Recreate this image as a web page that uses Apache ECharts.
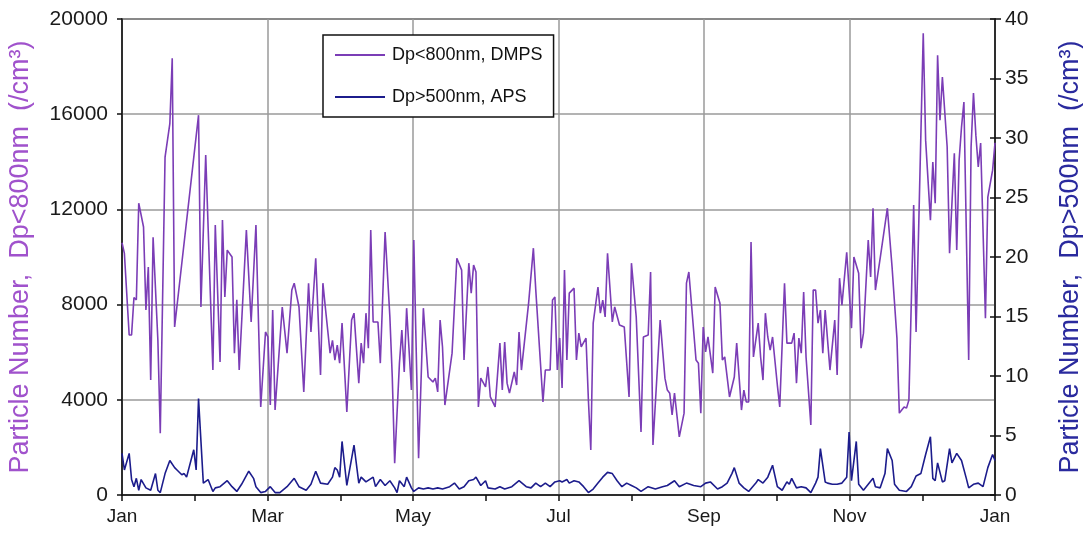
<!DOCTYPE html>
<html>
<head>
<meta charset="utf-8">
<script src="https://cdn.jsdelivr.net/npm/echarts@6/dist/echarts.min.js"></script>
<style>
  html, body { margin: 0; padding: 0; background: #ffffff; }
  #chart { width: 1083px; height: 537px; }
</style>
</head>
<body>
<div id="chart"></div>
<script>
// Month labels shown every second month along the day-of-year axis
const monthLabels = ['Jan', 'Mar', 'May', 'Jul', 'Sep', 'Nov', 'Jan'];

// Series names
const dmpsName = 'Dp<800nm, DMPS';
const apsName = 'Dp>500nm, APS';

// Daily particle number, Dp<800nm (DMPS), [day of year, count per cm3]
const dmpsDaily = [
  [0,10600],[1,10150],[3,6720],[4,6720],[5,8300],[6,8200],[7,12260],[9,11260],[10,7770],[11,9580],
  [12,4830],[13,10830],[15,6500],[16,2600],[18,14200],[20,15600],[21,18350],[22,7060],[32,15960],[33,7900],
  [35,14280],[38,5250],[39,11340],[41,5590],[42,11550],[43,8320],[44,10290],[46,10000],[47,5960],[48,8200],
  [49,5250],[52,11130],[54,7270],[56,11340],[58,3700],[60,6850],[61,6640],[62,3780],[63,7770],[64,3570],
  [67,7900],[69,5960],[71,8610],[72,8900],[74,7900],[76,4330],[78,8900],[79,6850],[81,9950],[83,5040],
  [84,8900],[85,7900],[87,5960],[88,6500],[89,5670],[90,6300],[91,5540],[92,7220],[94,3490],[96,7350],
  [97,7640],[99,4700],[100,6380],[101,5540],[102,7640],[103,6170],[104,11130],[105,7270],[107,7270],[108,5540],
  [110,11050],[112,7480],[113,4960],[114,1340],[116,5540],[117,6930],[118,5170],[119,7850],[121,4410],[122,10710],
  [124,1550],[126,7850],[128,4960],[130,4750],[131,4910],[132,4330],[133,7350],[134,6220],[135,3780],[138,5960],
  [140,9950],[142,9450],[143,5670],[145,9740],[146,8480],[147,9660],[148,9370],[149,3700],[150,4910],[152,4540],
  [153,5380],[154,4120],[156,3700],[158,6380],[159,4410],[160,6430],[161,4700],[162,4280],[164,5170],[165,4620],
  [166,6850],[167,5250],[170,8060],[172,10370],[173,8610],[176,3910],[177,5250],[179,5250],[180,8190],[181,8320],
  [182,5250],[183,6600],[184,4500],[185,9450],[186,5670],[187,8480],[189,8690],[190,5670],[191,6800],[192,6220],
  [194,6590],[195,3990],[196,1890],[197,7220],[199,8740],[200,7640],[201,8190],[202,7480],[203,10160],[205,7270],
  [206,7900],[208,7140],[210,7060],[212,4120],[213,9740],[215,7480],[217,2650],[218,6640],[220,6720],[221,9370],
  [222,2100],[225,7350],[227,4910],[228,4410],[229,4280],[230,3360],[231,4280],[233,2440],[235,3440],[236,8900],
  [237,9370],[240,5670],[241,5540],[242,3440],[243,7060],[244,6010],[245,6640],[247,5120],[248,8740],[250,8060],
  [251,5670],[252,5800],[254,4120],[256,4960],[257,6380],[259,3570],[260,4410],[261,3910],[262,3910],[263,10630],
  [264,5800],[266,7220],[267,5800],[268,4830],[269,7640],[270,6640],[271,6090],[272,6640],[274,4620],[275,3700],
  [277,8900],[278,6380],[280,6380],[281,6800],[282,4700],[283,6590],[284,5960],[285,8530],[286,5800],[288,2940],
  [289,8610],[290,8610],[291,7220],[292,7770],[293,5960],[294,7770],[295,6510],[296,5250],[298,7350],[299,5040],
  [300,9110],[301,7980],[303,10200],[305,7010],[306,10000],[308,9320],[309,6170],[310,6800],[312,10710],[313,9160],
  [314,12050],[315,8610],[317,9950],[320,12050],[322,9530],[324,6590],[325,3440],[326,3570],[327,3700],[328,3650],
  [329,3990],[331,12180],[332,6850],[333,10840],[335,19400],[336,14910],[338,11550],[339,13990],[340,12260],[341,18480],
  [342,15750],[343,17560],[345,14620],[346,10160],[348,14360],[349,10290],[350,14070],[351,15460],[352,16510],[354,5670],
  [355,14620],[356,16890],[357,15120],[358,13780],[359,14790],[361,7430],[362,12520],[364,13650],[365,14800]
];

// Daily particle number, Dp>500nm (APS), [day of year, count per cm3]
const apsDaily = [
  [0,3.5],[1,2.1],[3,3.5],[4,1.3],[5,0.7],[6,1.4],[7,0.4],[8,1.3],[10,0.6],[12,0.4],
  [14,1.8],[15,0.4],[16,0.2],[18,1.8],[20,2.9],[22,2.3],[23,2.1],[25,1.7],[26,1.8],[27,1.5],
  [30,3.8],[31,2.1],[32,8.1],[34,1.0],[36,1.3],[38,0.3],[39,0.6],[41,0.7],[44,1.2],[46,0.7],
  [48,0.3],[50,0.9],[53,2.0],[55,1.4],[56,0.7],[58,0.2],[60,0.3],[62,0.7],[64,0.2],[66,0.2],
  [69,0.7],[72,1.4],[74,0.7],[77,0.4],[79,0.9],[81,2.0],[83,1.0],[86,0.9],[88,1.5],[89,2.3],
  [90,2.1],[91,1.5],[92,4.5],[94,0.8],[97,4.2],[99,1.0],[100,1.5],[102,1.1],[105,1.5],[106,0.7],
  [108,1.3],[110,0.8],[112,1.2],[114,0.6],[115,0.2],[116,1.2],[118,0.7],[119,1.5],[121,0.6],[122,0.3],
  [124,0.6],[126,0.5],[128,0.6],[130,0.5],[132,0.6],[134,0.5],[137,0.7],[139,1.0],[141,0.5],[143,0.7],
  [145,1.2],[147,1.3],[148,1.5],[150,0.8],[152,1.2],[153,0.6],[156,0.5],[158,0.7],[160,0.5],[163,0.7],
  [166,1.2],[169,0.7],[171,0.6],[173,1.0],[175,0.7],[177,1.0],[179,0.7],[181,1.1],[183,1.2],[184,1.1],
  [186,1.3],[187,1.0],[189,1.2],[191,1.1],[193,0.7],[195,0.2],[197,0.5],[199,1.0],[201,1.5],[203,1.9],
  [205,1.8],[207,1.2],[209,0.7],[211,1.0],[213,0.8],[215,0.6],[217,0.3],[220,0.7],[223,0.5],[226,0.7],
  [228,0.8],[231,1.2],[233,0.7],[236,1.0],[239,0.8],[242,0.7],[244,1.0],[246,1.1],[249,0.5],[251,0.7],
  [253,1.0],[255,1.8],[256,2.3],[258,1.0],[260,0.6],[262,0.3],[265,1.0],[266,1.3],[268,1.0],[270,1.5],
  [272,2.5],[274,0.7],[276,0.4],[278,1.1],[279,0.9],[280,1.4],[282,0.6],[284,0.7],[286,0.6],[288,0.2],
  [290,1.0],[291,1.5],[292,3.9],[294,1.1],[295,1.0],[297,0.9],[299,0.9],[301,1.0],[303,1.5],[304,5.3],
  [305,1.2],[307,4.5],[308,0.9],[310,0.4],[312,0.9],[314,1.4],[315,0.7],[317,0.6],[319,1.8],[320,3.9],
  [322,2.9],[323,0.9],[325,0.4],[328,0.3],[330,0.7],[332,1.6],[334,1.8],[336,3.4],[338,4.9],[339,1.4],
  [340,1.2],[341,2.7],[343,1.1],[344,1.2],[346,3.9],[347,2.7],[349,3.5],[351,2.9],[353,1.4],[354,0.6],
  [356,0.9],[358,1.0],[360,0.7],[362,2.3],[364,3.4],[365,2.9]
];

const DAYS = 365;
const FONT = '"Liberation Sans", Arial, sans-serif';
const purple = '#7b3db6';
const navy = '#1c1c8c';

const chart = echarts.init(document.getElementById('chart'), null, { renderer: 'canvas' });

chart.setOption({
  animation: false,
  backgroundColor: '#ffffff',
  grid: {
    left: 122, right: 88, top: 19, bottom: 42,
    containLabel: false,
    outerBoundsMode: 'none',
    show: true, borderColor: '#222', borderWidth: 1.5, backgroundColor: '#ffffff'
  },
  legend: {
    orient: 'vertical',
    left: 323,
    top: 35,
    padding: [11, 11, 11, 12],
    itemGap: 24,
    itemWidth: 50,
    itemHeight: 2,
    icon: 'rect',
    backgroundColor: '#ffffff',
    borderColor: '#111',
    borderWidth: 1.5,
    textStyle: { fontFamily: FONT, fontSize: 18, color: '#111', padding: [0, 0, 0, 2] },
    data: [dmpsName, apsName]
  },
  xAxis: {
    type: 'value',
    min: 0,
    max: DAYS,
    interval: DAYS / 6,
    axisLine: { show: true, lineStyle: { color: '#111', width: 1.5 } },
    axisTick: { show: true, length: 6, lineStyle: { color: '#111', width: 1.5 } },
    minorTick: { show: true, splitNumber: 2, length: 6, lineStyle: { color: '#111', width: 1.5 } },
    axisLabel: {
      margin: 12,
      fontFamily: FONT,
      fontSize: 19,
      color: '#1a1a1a',
      showMinLabel: true,
      showMaxLabel: true,
      formatter: v => monthLabels[Math.round(v / (DAYS / 6))] || ''
    },
    splitLine: { show: true, lineStyle: { color: '#9a9a9a', width: 1.5 } }
  },
  yAxis: [
    {
      type: 'value',
      position: 'left',
      min: 0,
      max: 20000,
      interval: 4000,
      name: 'Particle Number,  Dp<800nm  (/cm³)',
      nameLocation: 'middle',
      nameRotate: 90,
      nameGap: 88,
      nameTextStyle: { fontFamily: FONT, fontSize: 27, color: '#a052cc' },
      axisLine: { show: true, lineStyle: { color: '#111', width: 1.5 } },
      axisTick: { show: true, length: 5, lineStyle: { color: '#111', width: 1.5 } },
      axisLabel: { margin: 14, fontFamily: FONT, fontSize: 21, color: '#1a1a1a', formatter: v => String(v) },
      splitLine: { show: true, lineStyle: { color: '#9a9a9a', width: 1.5 } }
    },
    {
      type: 'value',
      position: 'right',
      min: 0,
      max: 40,
      interval: 5,
      name: 'Particle Number,  Dp>500nm  (/cm³)',
      nameLocation: 'middle',
      nameRotate: 90,
      nameGap: 62,
      nameTextStyle: { fontFamily: FONT, fontSize: 27, color: '#2a2a9e' },
      axisLine: { show: true, lineStyle: { color: '#111', width: 1.5 } },
      axisTick: { show: true, length: 6, lineStyle: { color: '#111', width: 1.5 } },
      axisLabel: { margin: 10, fontFamily: FONT, fontSize: 21, color: '#1a1a1a' },
      splitLine: { show: false }
    },
    {
      // inner half of the crossing ticks on the right-hand scale
      type: 'value',
      position: 'right',
      min: 0,
      max: 40,
      interval: 5,
      axisLine: { show: false },
      axisTick: { show: true, inside: true, length: 5, lineStyle: { color: '#111', width: 1.5 } },
      axisLabel: { show: false },
      splitLine: { show: false }
    }
  ],
  series: [
    {
      name: dmpsName,
      type: 'line',
      yAxisIndex: 0,
      data: dmpsDaily,
      symbol: 'none',
      color: purple,
      lineStyle: { color: purple, width: 1.6 },
      z: 3
    },
    {
      name: apsName,
      type: 'line',
      yAxisIndex: 1,
      data: apsDaily,
      symbol: 'none',
      color: navy,
      lineStyle: { color: navy, width: 1.6 },
      z: 4
    }
  ]
});
</script>
</body>
</html>
